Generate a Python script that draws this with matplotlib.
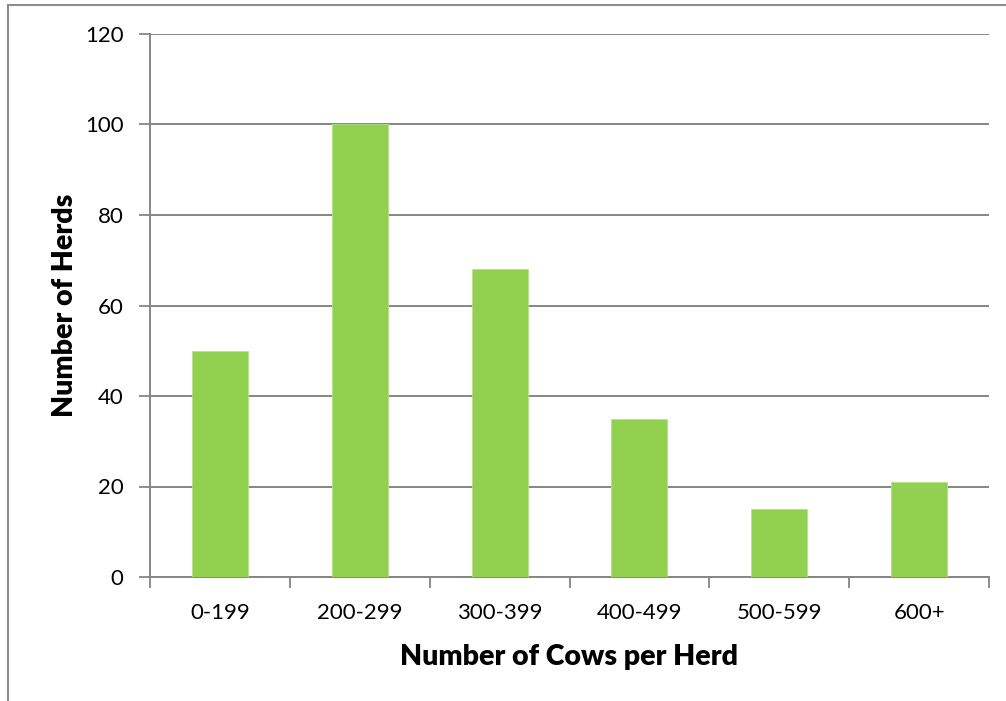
import matplotlib
matplotlib.use("Agg")
import matplotlib.pyplot as plt
from matplotlib.patches import Rectangle
import numpy as np

# herd size distribution
categories = ["0-199", "200-299", "300-399", "400-499", "500-599", "600+"]
herds = [50, 100, 68, 35, 15, 21]

plt.rcParams['font.family'] = ['Lato', 'DejaVu Sans']

W, H = 1006, 701
fig = plt.figure(figsize=(W / 100, H / 100), dpi=100)

# chart border (runs off the right and bottom edge)
fig.patches.append(Rectangle((8 / W, -0.2), 1.2, 1.2 - 5 / H, transform=fig.transFigure,
                             fill=False, edgecolor="#8c8c8c", linewidth=1.5))

ax = fig.add_axes([150 / W, (H - 577) / H, (989 - 150) / W, (577 - 34) / H])

x = np.arange(len(categories))
ax.bar(x, herds, width=0.4, color="#92D050", edgecolor="#b5e08a", linewidth=0.6, zorder=3)

ax.set_xlim(-0.5, len(categories) - 0.5)
ax.set_ylim(0, 120)
ax.set_yticks(np.arange(0, 121, 20))
ax.yaxis.grid(True, color="#868686", linewidth=1.4, zorder=0)

# category labels centred, tick marks at the category boundaries
ax.set_xticks(x)
ax.set_xticklabels(categories)
ax.set_xticks(np.arange(-0.5, len(categories)), minor=True)
ax.tick_params(axis="x", which="major", length=0, pad=19, labelsize=16)
ax.tick_params(axis="x", which="minor", length=8, width=1.3, color="#868686")
ax.tick_params(axis="y", length=8, width=1.3, color="#868686", pad=11, labelsize=16)

for side in ["top", "right"]:
    ax.spines[side].set_visible(False)
for side in ["left", "bottom"]:
    ax.spines[side].set_color("#868686")
    ax.spines[side].set_linewidth(1.4)

ax.set_xlabel("Number of Cows per Herd", fontsize=20.5, fontweight="heavy", labelpad=15)
ax.set_ylabel("Number of Herds", fontsize=20.5, fontweight="heavy", labelpad=5)

fig.savefig("out.png", dpi=100, facecolor="white")
